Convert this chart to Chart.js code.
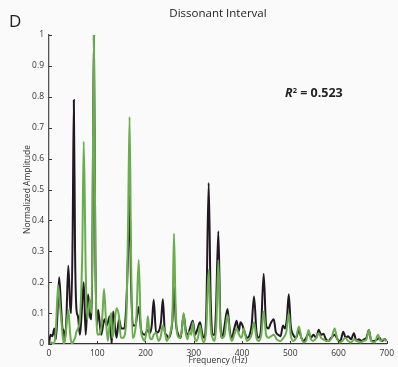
<!DOCTYPE html>
<html>
<head>
<meta charset="UTF-8">
<script src="https://cdn.jsdelivr.net/npm/chart.js@4"></script>
<style>
  html, body { margin: 0; padding: 0; background: #fafafa; }
  #wrap { position: relative; width: 398px; height: 367px; font-family: 'Open Sans', 'Noto Sans', sans-serif; color: #222; }
  #panel { position: absolute; left: 9px; top: 9px; font-size: 17px; }
  #title { position: absolute; left: 0; width: 436px; top: 5px; text-align: center; font-size: 11.5px; }
  #rsq { position: absolute; left: 285px; top: 84px; font-size: 12.5px; font-weight: bold; }
  #rsq sup { font-size: 7.5px; vertical-align: 4px; }
  canvas { position: absolute; left: 0; top: 0; }
</style>
</head>
<body>
<div id="wrap">
  <canvas id="c" width="398" height="367"></canvas>
  <div id="panel">D</div>
  <div id="title">Dissonant Interval</div>
  <div id="rsq"><i>R</i><sup>2</sup> = 0.523</div>
</div>
<script>
// consonant (black) spectrum
const blackFreq = [0,3,7,11,14,17,21,25,28,30,33,36,40,44,46,49,51.5,54,57,60,64,67,72,76,81,85,88,90,93,96,99,
  102,108,115,120,126,130,133,140,145,150,156,160,164,167,170,174,179,186,191,198,205,209,213,217,222,227,232,236,240,243,248,253,256,259,263,268,273,279,284,288,292,298,303,308,313,318,322,326,331,335,339,343,346,351,355,359,363,370,375,379,384,389,393,397,401,405,411,416,420,425,430,434,439,445,450,455,459,466,470,475,480,485,489,493,497,501,506,512,518,523,528,533,538,543,548,554,559,564,569,574,579,585,592,598,604,610,615,620,626,632,637,642,648,653,658,663,668,674,680,685,690,696,700];
const blackAmp = [0,0.03,0.025,0.05,0.015,0.08,0.216,0.12,0.05,0.045,0.01,0.08,0.253,0.12,0.10,0.35,0.79,0.3,0.11,0.09,0.03,0.08,0.2,0.03,0.16,0.09,0.08,0.3,1.0,0.3,0.06,
  0.11,0.03,0.08,0.06,0.09,0.0,0.105,0.02,0.08,0.05,0.05,0.12,0.3,0.48,0.2,0.06,0.06,0.12,0.045,0.03,0.045,0.035,0.06,0.143,0.036,0.04,0.07,0.145,0.04,0.03,0.02,0.04,0.08,0.183,0.07,0.03,0.02,0.095,0.04,0.03,0.05,0.075,0.03,0.05,0.07,0.03,0.02,0.1,0.521,0.15,0.03,0.03,0.1,0.365,0.08,0.02,0.05,0.113,0.04,0.02,0.05,0.075,0.04,0.07,0.06,0.04,0.02,0.03,0.06,0.154,0.04,0.02,0.04,0.227,0.06,0.05,0.065,0.08,0.04,0.03,0.025,0.06,0.05,0.08,0.161,0.06,0.03,0.02,0.045,0.02,0.01,0.02,0.035,0.02,0.03,0.02,0.046,0.03,0.033,0.015,0.01,0.02,0.03,0.015,0.01,0.04,0.02,0.025,0.015,0.035,0.01,0.015,0.01,0.015,0.02,0.045,0.01,0.01,0.015,0.02,0.01,0.015,0.01];

// dissonant (green) spectrum
const greenFreq = [0,5,10,14,19,23,26,28,31,35,40,44,47,51,54,57,60,64,69,72,76,79,82,85,88,90,93,96,99,
  102,107,111,114,118,122,126,129,131,134,140,145,149,153,157,161,164,167,170,173,177,181,186,190,194,198,202,205,209,213,217,222,227,231,236,240,244,248,252,256,259,262,265,270,275,279,283,287,291,295,298,302,306,310,313,317,321,326,331,335,339,343,347,351,355,359,364,370,375,379,384,389,394,399,404,410,415,420,425,430,435,440,445,450,455,460,466,472,480,486,492,497,501,506,512,518,523,528,533,538,543,548,554,559,564,569,574,580,586,592,597,602,608,614,620,626,632,638,645,652,658,663,668,675,682,687,693,700];
const greenAmp = [0,0.005,0,0.04,0.19,0.12,0.07,0.03,0,0.04,0.11,0.03,0,0.01,0.02,0.04,0.05,0.08,0.3,0.655,0.25,0.08,0.11,0.143,0.1,0.35,1.0,0.3,0.06,
  0.03,0.04,0.1,0.178,0.08,0.01,0.07,0.1,0.02,0.04,0.116,0.09,0.02,0.02,0.03,0.12,0.4,0.735,0.3,0.02,0.03,0.08,0.272,0.06,0.02,0.01,0.04,0.09,0.02,0.015,0.03,0.036,0.01,0.02,0.06,0.04,0.01,0.02,0.04,0.1,0.358,0.15,0.04,0.02,0.04,0.1,0.04,0.015,0.04,0.03,0.07,0.02,0.01,0.03,0.06,0.02,0.005,0.05,0.24,0.06,0.02,0.01,0.07,0.272,0.06,0.02,0.03,0.095,0.03,0.01,0.03,0.05,0.03,0.02,0.05,0.01,0.015,0.03,0.07,0.02,0.01,0.03,0.105,0.03,0.02,0.025,0.03,0.015,0.01,0.02,0.04,0.1,0.03,0.01,0.02,0.057,0.02,0.005,0.01,0.045,0.015,0.01,0.02,0.035,0.02,0.015,0.01,0.01,0.02,0.05,0.02,0.005,0.01,0.02,0.01,0.005,0.015,0.01,0.005,0.01,0.015,0.045,0.01,0.005,0.03,0.01,0.015,0.01];

const xTicks = [0, 100, 200, 300, 400, 500, 600, 700];
const yTicks = [0, 0.1, 0.2, 0.3, 0.4, 0.5, 0.6, 0.7, 0.8, 0.9, 1];

const pts = (xs, ys) => xs.map((x, i) => ({ x: x, y: ys[i] }));

// inward tick marks like the original figure
const inwardTicks = {
  id: 'inwardTicks',
  afterDraw(chart) {
    const { ctx, chartArea: a, scales: { x, y } } = chart;
    ctx.save();
    ctx.strokeStyle = '#333';
    ctx.lineWidth = 1;
    ctx.beginPath();
    xTicks.forEach(v => { const p = Math.round(x.getPixelForValue(v)) + 0.5; ctx.moveTo(p, a.bottom); ctx.lineTo(p, a.bottom - 3); });
    yTicks.forEach(v => { const p = Math.round(y.getPixelForValue(v)) + 0.5; ctx.moveTo(a.left, p); ctx.lineTo(a.left + 3, p); });
    ctx.stroke();
    ctx.restore();
  }
};

new Chart(document.getElementById('c'), {
  type: 'line',
  data: {
    datasets: [
      { label: 'Dissonant', data: pts(greenFreq, greenAmp), borderColor: '#6aad4e', borderWidth: 2, pointRadius: 0, cubicInterpolationMode: 'monotone' },
      { label: 'Model', data: pts(blackFreq, blackAmp), borderColor: '#221822', borderWidth: 2, pointRadius: 0, cubicInterpolationMode: 'monotone' }
    ]
  },
  options: {
    responsive: false,
    animation: false,
    layout: { padding: { left: 0, right: 10, top: 35, bottom: 0 } },
    plugins: { legend: { display: false }, tooltip: { enabled: false } },
    scales: {
      x: {
        type: 'linear', min: 0, max: 700,
        afterBuildTicks: s => { s.ticks = xTicks.map(v => ({ value: v })); },
        afterFit: s => { s.height = 23; },
        grid: { display: false, drawTicks: false },
        border: { display: true, color: '#333', width: 1.3 },
        ticks: { padding: 4, color: '#333', font: { family: 'Open Sans', size: 8.5 }, maxRotation: 0 },
        title: { display: true, text: 'Frequency (Hz)', color: '#333', font: { family: 'Open Sans', size: 8.5 }, padding: { top: 0, bottom: 1.5 } }
      },
      y: {
        min: 0, max: 1,
        afterBuildTicks: s => { s.ticks = yTicks.map(v => ({ value: v })); },
        afterFit: s => { s.width = 49; },
        grid: { display: false, drawTicks: false },
        border: { display: true, color: '#555', width: 1.3 },
        ticks: { padding: 5, color: '#333', font: { family: 'Open Sans', size: 8.5 }, callback: v => String(Math.round(v * 10) / 10) },
        title: { display: true, text: 'Normalized Amplitude', color: '#333', font: { family: 'Open Sans', size: 8.5 }, padding: { top: 22, bottom: 0 } }
      }
    }
  },
  plugins: [inwardTicks]
});
</script>
</body>
</html>
